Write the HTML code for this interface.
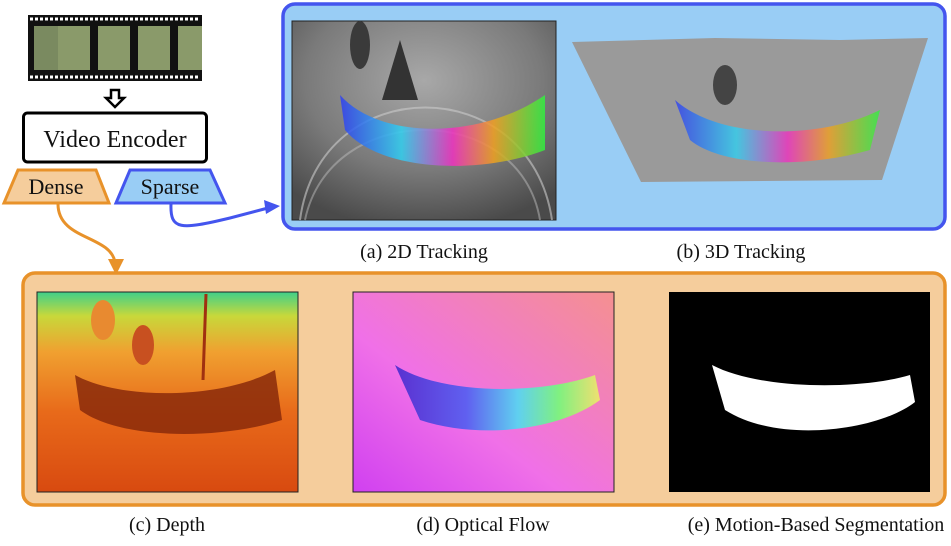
<!DOCTYPE html>
<html><head><meta charset="utf-8"><style>
body{margin:0;background:#fff;width:951px;height:541px;overflow:hidden}
svg text{font-family:"Liberation Serif","Times New Roman",serif !important;fill:#111}
</style></head><body>
<svg width="951" height="541" viewBox="0 0 951 541" xmlns="http://www.w3.org/2000/svg" font-family="Liberation Serif, serif">
<defs>
<linearGradient id="depth" x1="0" y1="0" x2="0" y2="1">
<stop offset="0" stop-color="#3fd08a"/><stop offset="0.12" stop-color="#c8d83a"/><stop offset="0.3" stop-color="#f0a030"/><stop offset="0.6" stop-color="#e86a1a"/><stop offset="1" stop-color="#d84a10"/></linearGradient>
<linearGradient id="flow" x1="0" y1="1" x2="1" y2="0">
<stop offset="0" stop-color="#d040f0"/><stop offset="0.4" stop-color="#f070e8"/><stop offset="1" stop-color="#f49090"/></linearGradient>
<linearGradient id="car" x1="0" y1="0" x2="1" y2="0">
<stop offset="0" stop-color="#5a30d0"/><stop offset="0.35" stop-color="#6060f0"/><stop offset="0.6" stop-color="#60d0f0"/><stop offset="0.8" stop-color="#80f080"/><stop offset="1" stop-color="#f0e070"/></linearGradient>
<radialGradient id="gray" cx="0.5" cy="0.3" r="0.75"><stop offset="0" stop-color="#a8a8a8"/><stop offset="0.6" stop-color="#7a7a7a"/><stop offset="1" stop-color="#4a4a4a"/></radialGradient>
<linearGradient id="rb" x1="0" y1="0" x2="1" y2="0">
<stop offset="0" stop-color="#3040f0"/><stop offset="0.3" stop-color="#30d0f0"/><stop offset="0.55" stop-color="#f030c0"/><stop offset="0.75" stop-color="#f0a020"/><stop offset="1" stop-color="#30f040"/></linearGradient>
</defs>

<g>
<rect x="28" y="15" width="174" height="66" fill="#111"/>
<rect x="34" y="26" width="28" height="44" fill="#7a8a60"/>
<rect x="58" y="26" width="32" height="44" fill="#8a9a6a"/>
<rect x="98" y="26" width="32" height="44" fill="#8a9a6a"/>
<rect x="138" y="26" width="32" height="44" fill="#8a9a6a"/>
<rect x="178" y="26" width="24" height="44" fill="#8a9a6a"/>
<line x1="30" y1="19" x2="200" y2="19" stroke="#fff" stroke-width="3" stroke-dasharray="3 2"/>
<line x1="30" y1="77" x2="200" y2="77" stroke="#fff" stroke-width="3" stroke-dasharray="3 2"/>
</g>
<path d="M111 90h8v8h5l-9 9-9-9h5z" fill="#fff" stroke="#000" stroke-width="2.5"/>

<g>
<rect x="23.5" y="113" width="183" height="49" rx="4" fill="#fff" stroke="#000" stroke-width="3"/>
<text x="115" y="147" font-size="24" text-anchor="middle">Video Encoder</text>
</g>
<g>
<polygon points="18,170 96,170 109,203 4,203" fill="#f5cd9c" stroke="#e8922a" stroke-width="3"/>
<text x="56" y="194" font-size="22" text-anchor="middle">Dense</text>
</g>
<g>
<polygon points="130,170 210,170 225,203 116,203" fill="#99cdf5" stroke="#4455ee" stroke-width="3"/>
<text x="170" y="194" font-size="22" text-anchor="middle">Sparse</text>
</g>
<path d="M171 204 C170 230 180 230 230 218 L268 208" fill="none" stroke="#4455ee" stroke-width="3"/>
<polygon points="280,206 264,200 266,214" fill="#4455ee"/>
<path d="M58 204 C58 240 110 235 115 262" fill="none" stroke="#e8922a" stroke-width="3"/>
<polygon points="116,275 108,259 124,259" fill="#e8922a"/>

<rect x="283" y="4" width="662" height="225" rx="12" fill="#99cdf5" stroke="#4455ee" stroke-width="3.5"/>
<g>
<rect x="292" y="21" width="264" height="199" fill="url(#gray)" stroke="#222"/>
<path d="M300 220 C320 70 530 70 552 220" fill="none" stroke="#ccc" stroke-width="2" opacity="0.6"/>
<path d="M305 220 C330 100 520 100 540 220" fill="none" stroke="#bbb" stroke-width="2" opacity="0.5"/>
<path d="M340 95 C380 140 480 140 545 95 L545 150 C480 175 380 172 345 130Z" fill="url(#rb)" opacity="0.85"/>
<polygon points="400,40 418,100 382,100" fill="#333"/>
<ellipse cx="360" cy="45" rx="10" ry="24" fill="#3a3a3a"/>
</g>
<g>
<polygon points="572,42 715,38 840,40 928,38 882,180 641,182" fill="#9a9a9a"/>
<path d="M675 100 C720 140 820 140 880 110 L870 150 C800 170 720 165 690 140Z" fill="url(#rb)" opacity="0.8"/>
<ellipse cx="725" cy="85" rx="12" ry="20" fill="#444"/>
</g>
<text x="424" y="258" font-size="20" text-anchor="middle">(a) 2D Tracking</text>
<text x="741" y="258" font-size="20" text-anchor="middle">(b) 3D Tracking</text>

<rect x="23" y="273" width="922" height="232" rx="12" fill="#f5cd9c" stroke="#e8922a" stroke-width="3.5"/>
<g>
<rect x="37" y="292" width="261" height="200" fill="url(#depth)" stroke="#222"/>
<path d="M75 375 C120 400 220 400 275 370 L282 420 C220 440 120 440 80 410Z" fill="#8a2a0a" opacity="0.85"/>
<ellipse cx="103" cy="320" rx="12" ry="20" fill="#e88a30"/>
<ellipse cx="143" cy="345" rx="11" ry="20" fill="#c85020"/>
<line x1="206" y1="294" x2="203" y2="380" stroke="#a03010" stroke-width="3"/>
</g>
<g>
<rect x="353" y="292" width="261" height="200" fill="url(#flow)" stroke="#222"/>
<path d="M395 365 C440 395 540 395 595 375 L600 400 C560 430 480 440 420 420Z" fill="url(#car)"/>
</g>
<g>
<rect x="669" y="292" width="261" height="200" fill="#000"/>
<path d="M712 365 C760 390 860 390 910 375 L915 402 C880 430 780 445 725 410Z" fill="#fff"/>
</g>
<text x="167" y="531" font-size="20" text-anchor="middle">(c) Depth</text>
<text x="483" y="531" font-size="20" text-anchor="middle">(d) Optical Flow</text>
<text x="816" y="531" font-size="20" text-anchor="middle">(e) Motion-Based Segmentation</text>
</svg>
</body></html>
